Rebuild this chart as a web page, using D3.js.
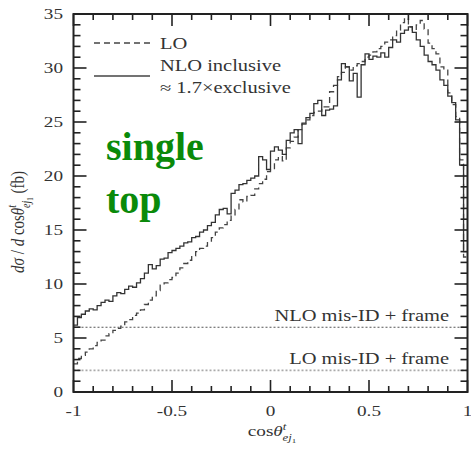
<!DOCTYPE html>
<html>
<head>
<meta charset="utf-8">
<script src="https://cdn.jsdelivr.net/npm/d3@7"></script>
<style>
  html, body { margin: 0; padding: 0; background: #fff; }
  svg { display: block; }
  text { font-family: "Liberation Serif", "Times New Roman", Times, serif; fill: #333; }
</style>
</head>
<body>
<svg id="chart" width="471" height="451"></svg>
<script>
// Histogram bins: 100 bins of width 0.02 over cos(theta) in [-1, 1]
const binLow = -1, binWidth = 0.02;

// LO distribution (fb per unit cos)
const loValues = [
  2.6, 3.1, 3.4, 3.7, 4.0, 4.3, 4.6, 4.8, 5.2, 5.4,
  5.7, 5.9, 6.1, 6.5, 6.7, 7.1, 7.3, 7.6, 8.1, 8.5,
  8.9, 9.4, 9.9, 10.1, 10.4, 10.6, 11.0, 11.5, 11.9, 12.2,
  12.6, 13.0, 13.3, 13.5, 13.9, 14.3, 14.8, 15.2, 15.5, 15.9,
  16.3, 16.9, 17.8, 17.6, 18.1, 18.2, 18.8, 19.3, 19.7, 20.4,
  20.6, 21.5, 21.8, 21.4, 22.6, 23.2, 23.6, 24.3, 24.8, 25.2,
  25.6, 25.9, 26.0, 26.4, 26.4, 27.8, 28.4, 29.2, 29.6, 30.1,
  29.8, 30.2, 30.4, 30.6, 31.0, 31.2, 31.5, 31.8, 32.0, 32.4,
  32.6, 33.0, 33.5, 34.2, 34.6, 33.8, 33.5, 34.0, 34.4, 33.6,
  32.3, 31.8, 31.3, 30.1, 29.8, 27.7, 26.6, 25.5, 21.5, 12.5
];

// NLO inclusive distribution
const nloValues = [
  6.2, 6.9, 7.2, 7.5, 7.7, 7.6, 8.0, 8.3, 8.5, 8.4,
  8.9, 9.2, 9.1, 9.5, 9.8, 9.7, 10.1, 10.5, 11.0, 11.8,
  11.4, 11.7, 12.3, 12.4, 12.9, 13.1, 13.3, 13.5, 13.8, 13.9,
  14.3, 14.4, 14.8, 15.0, 15.4, 15.7, 16.4, 16.9, 17.0, 16.5,
  18.4, 18.7, 19.2, 19.3, 19.6, 19.8, 20.0, 21.8, 21.5, 20.6,
  22.3, 22.7, 22.4, 22.0, 23.3, 24.0, 24.3, 23.0, 24.9, 25.4,
  25.8, 26.7, 27.0, 25.6, 26.1, 26.2, 26.5, 28.9, 30.4, 30.1,
  28.8, 29.5, 27.3, 30.3, 31.3, 30.8, 31.1, 31.0, 31.4, 31.0,
  31.9, 32.6, 32.4, 33.2, 33.5, 33.8, 33.3, 32.6, 32.0, 31.2,
  30.6, 30.3, 29.8, 28.9, 28.4, 27.4, 26.8, 25.2, 21.0, 13.0
];

// Flat mis-ID + frame levels
const misIdLevels = [
  { name: "NLO mis-ID + frame", value: 6.0 },
  { name: "LO mis-ID + frame", value: 2.0 }
];

const xMajorTicks = [-1, -0.5, 0, 0.5, 1];
const xTickLabels = ["-1", "-0.5", "0", "0.5", "1"];
const yMajorTicks = [0, 5, 10, 15, 20, 25, 30, 35];
const yTickLabels = ["0", "5", "10", "15", "20", "25", "30", "35"];

const legendItems = [
  { label: "LO", dash: "6,4" },
  { label: "NLO inclusive", dash: null }
];

// ---- layout ----
const svg = d3.select("#chart");
const SX = 1.28; // horizontal text widening
const x = d3.scaleLinear().domain([-1, 1]).range([73.5, 467.5]);
const y = d3.scaleLinear().domain([0, 35]).range([392, 14]);
const x0 = x.range()[0], x1 = x.range()[1], y0 = y.range()[0], y1 = y.range()[1];

function wideText(parent, px, py, str, size, anchor, rotate) {
  const g = parent.append("g")
    .attr("transform", `translate(${px},${py}) scale(${SX},1)` + (rotate ? ` rotate(${rotate})` : ""));
  const t = g.append("text")
    .attr("font-size", size)
    .attr("text-anchor", anchor || "start");
  if (str != null) t.text(str);
  return t;
}

// ---- histograms ----
function histPoints(vals) {
  const pts = vals.map((v, i) => [binLow + i * binWidth, v]);
  pts.push([binLow + vals.length * binWidth, vals[vals.length - 1]]);
  return pts;
}
const step = d3.line().x(d => x(d[0])).y(d => y(d[1])).curve(d3.curveStepAfter);

svg.append("path")
  .attr("d", step(histPoints(loValues)))
  .attr("fill", "none").attr("stroke", "#444").attr("stroke-width", 1.3)
  .attr("stroke-dasharray", "6,4");

svg.append("path")
  .attr("d", step(histPoints(nloValues)))
  .attr("fill", "none").attr("stroke", "#333").attr("stroke-width", 1.3);

// ---- mis-ID levels ----
misIdLevels.forEach((m, i) => {
  svg.append("line")
    .attr("x1", x0).attr("x2", x1)
    .attr("y1", y(m.value)).attr("y2", y(m.value))
    .attr("stroke", i === 0 ? "#555" : "#aaa")
    .attr("stroke-width", i === 0 ? 1.1 : 1.6)
    .attr("stroke-dasharray", "2,2");
  wideText(svg, 449, y(m.value) - 6, m.name, 16, "end");
});

// ---- frame & ticks (inward on all four sides) ----
const axisColor = "#222";
const tickG = svg.append("g").attr("stroke", axisColor).attr("stroke-width", 1.6);
const xMinor = d3.range(-10, 11).map(k => k / 10);
const yMinor = d3.range(0, 36);
xMinor.forEach(v => {
  const major = xMajorTicks.some(t => Math.abs(t - v) < 1e-9);
  const len = major ? 12 : 6;
  tickG.append("line").attr("x1", x(v)).attr("x2", x(v)).attr("y1", y0).attr("y2", y0 - len);
  tickG.append("line").attr("x1", x(v)).attr("x2", x(v)).attr("y1", y1).attr("y2", y1 + len);
});
yMinor.forEach(v => {
  const major = yMajorTicks.includes(v);
  const len = major ? 13 : 7;
  tickG.append("line").attr("x1", x0).attr("x2", x0 + len).attr("y1", y(v)).attr("y2", y(v));
  tickG.append("line").attr("x1", x1).attr("x2", x1 - len).attr("y1", y(v)).attr("y2", y(v));
});
svg.append("rect")
  .attr("x", x0).attr("y", y1).attr("width", x1 - x0).attr("height", y0 - y1)
  .attr("fill", "none").attr("stroke", axisColor).attr("stroke-width", 2);

// ---- tick labels ----
yMajorTicks.forEach((v, i) => {
  wideText(svg, 63, y(v) + 5, yTickLabels[i], 15, "end");
});
xMajorTicks.forEach((v, i) => {
  wideText(svg, x(v), 416, xTickLabels[i], 15, "middle");
});

// ---- axis titles ----
const xt = wideText(svg, 272, 436, null, 15, "middle");
xt.append("tspan").text("cos");
xt.append("tspan").attr("font-style", "italic").text("θ");
xt.append("tspan").attr("font-size", 10).attr("font-style", "italic").attr("dy", -6).text("t");
xt.append("tspan").attr("font-size", 10).attr("font-style", "italic").attr("dx", -3).attr("dy", 11).text("ej");
xt.append("tspan").attr("font-size", 7).attr("dy", 2).text("1");

const yt = wideText(svg, 24, 222, null, 15, "middle", -90);
yt.append("tspan").attr("font-style", "italic").text("dσ");
yt.append("tspan").text(" / ");
yt.append("tspan").attr("font-style", "italic").text("d");
yt.append("tspan").text(" cos");
yt.append("tspan").attr("font-style", "italic").text("θ");
yt.append("tspan").attr("font-size", 10).attr("font-style", "italic").attr("dy", -6).text("t");
yt.append("tspan").attr("font-size", 10).attr("font-style", "italic").attr("dx", -3).attr("dy", 11).text("ej");
yt.append("tspan").attr("font-size", 7).attr("dy", 2).text("1");
yt.append("tspan").attr("dy", -7).text("  (fb)");

// ---- legend ----
legendItems.forEach((d, i) => {
  const ly = 43 + i * 33;
  svg.append("line")
    .attr("x1", 94).attr("x2", 150).attr("y1", ly).attr("y2", ly)
    .attr("stroke", "#444").attr("stroke-width", 1.3)
    .attr("stroke-dasharray", d.dash);
});
wideText(svg, 160, 49, "LO", 16, "start");
wideText(svg, 160, 71, "NLO inclusive", 16, "start");
wideText(svg, 160, 93, "≈ 1.7×exclusive", 16, "start");

// ---- process tag ----
svg.append("text").attr("x", 106).attr("y", 160)
  .attr("font-size", 40).attr("font-weight", "bold")
  .style("fill", "#0a8a0a").text("single");
svg.append("text").attr("x", 106).attr("y", 213)
  .attr("font-size", 40).attr("font-weight", "bold")
  .style("fill", "#0a8a0a").text("top");
</script>
</body>
</html>
